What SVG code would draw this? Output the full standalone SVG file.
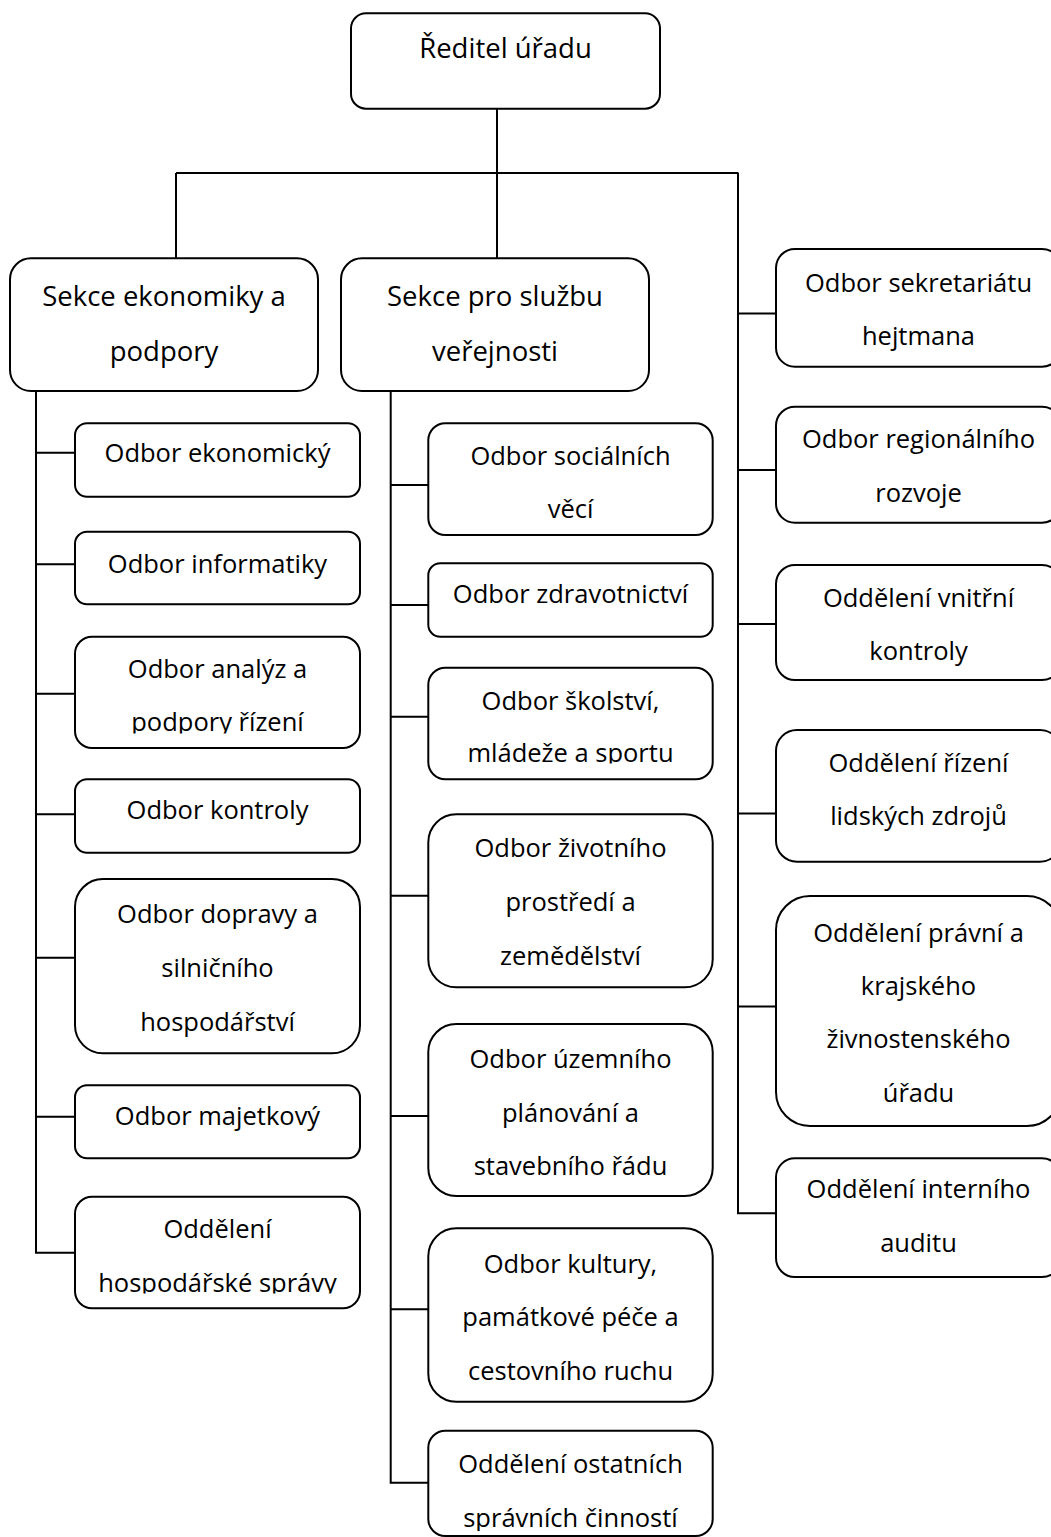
<svg xmlns="http://www.w3.org/2000/svg" width="1051" height="1537" viewBox="0 0 1051 1537">
<style>
.box{fill:#fff;stroke:#000;stroke-width:2}
.conn{fill:none;stroke:#000;stroke-width:2}
text{font-family:"Open Sans","Noto Sans","Liberation Sans",sans-serif;fill:#000;text-anchor:middle}
.t{font-size:25.5px}
.h{font-size:27.5px}
</style>
<defs>
<clipPath id="c1" clipPathUnits="userSpaceOnUse"><rect x="75" y="636" width="285" height="97.5"/></clipPath>
<clipPath id="c2" clipPathUnits="userSpaceOnUse"><rect x="75" y="1196" width="285" height="97.5"/></clipPath>
<clipPath id="c3" clipPathUnits="userSpaceOnUse"><rect x="428" y="667" width="285" height="96.5"/></clipPath>
<clipPath id="c4" clipPathUnits="userSpaceOnUse"><rect x="428" y="1430" width="285" height="101"/></clipPath>
</defs>
<rect width="1051" height="1537" fill="#fff"/>
<g id="connectors">
<path class="conn" d="M497,108.7V173M176,173H738.5M176,173V258.3M497,173V258.3M738,173V1213.3H776"/>
<path class="conn" d="M738,313.5H776M738,470H776M738,624H776M738,813.5H776M738,1006.5H776"/>
<path class="conn" d="M36,391V1252.7H75M36,452.7H75M36,564.3H75M36,693.7H75M36,814.3H75M36,957.7H75M36,1116.7H75"/>
<path class="conn" d="M390.7,391V1482.7H428.3M390.7,485H428.3M390.7,605H428.3M390.7,716.7H428.3M390.7,895.7H428.3M390.7,1116H428.3M390.7,1309.3H428.3"/>
</g>
<g id="n-reditel"><rect class="box" x="351" y="13.3" width="309" height="95.4" rx="15"/><text class="h" x="505.5" y="58">Ředitel úřadu</text></g>
<g id="n-sekce-ekonomiky"><rect class="box" x="10" y="258.3" width="308" height="132.7" rx="21"/><text class="h" x="164" y="306">Sekce ekonomiky a</text><text class="h" x="164" y="361">podpory</text></g>
<g id="n-sekce-sluzby"><rect class="box" x="341" y="258.3" width="308" height="132.7" rx="21"/><text class="h" x="495" y="306">Sekce pro službu</text><text class="h" x="495" y="361">veřejnosti</text></g>

<g id="n-ekonomicky"><rect class="box" x="75" y="423.3" width="285" height="73.4" rx="12"/><text class="t" x="217.5" y="462.3">Odbor ekonomický</text></g>
<g id="n-informatiky"><rect class="box" x="75" y="531.7" width="285" height="72.6" rx="12"/><text class="t" x="217.5" y="572.5">Odbor informatiky</text></g>
<g id="n-analyz"><rect class="box" x="75" y="636.7" width="285" height="111.3" rx="17"/><g clip-path="url(#c1)"><text class="t" x="217.5" y="677.7">Odbor analýz a</text><text class="t" x="217.5" y="731">podpory řízení</text></g></g>
<g id="n-kontroly"><rect class="box" x="75" y="779.3" width="285" height="73.4" rx="12"/><text class="t" x="217.5" y="819.3">Odbor kontroly</text></g>
<g id="n-dopravy"><rect class="box" x="75" y="879" width="285" height="174.3" rx="28"/><text class="t" x="217.5" y="923.3">Odbor dopravy a</text><text class="t" x="217.5" y="977">silničního</text><text class="t" x="217.5" y="1030.5">hospodářství</text></g>
<g id="n-majetkovy"><rect class="box" x="75" y="1085.3" width="285" height="73" rx="12"/><text class="t" x="217.5" y="1125">Odbor majetkový</text></g>
<g id="n-hosp-spravy"><rect class="box" x="75" y="1196.7" width="285" height="111.6" rx="17"/><g clip-path="url(#c2)"><text class="t" x="217.5" y="1238.3">Oddělení</text><text class="t" x="217.5" y="1291.7">hospodářské správy</text></g></g>

<g id="n-socialnich"><rect class="box" x="428.3" y="423.3" width="284.4" height="111.7" rx="17"/><text class="t" x="570.5" y="465">Odbor sociálních</text><text class="t" x="570.5" y="518.3">věcí</text></g>
<g id="n-zdravotnictvi"><rect class="box" x="428.3" y="563.3" width="284.4" height="73.4" rx="12"/><text class="t" x="570.5" y="603.3">Odbor zdravotnictví</text></g>
<g id="n-skolstvi"><rect class="box" x="428.3" y="667.7" width="284.4" height="111.6" rx="17"/><g clip-path="url(#c3)"><text class="t" x="570.5" y="710">Odbor školství,</text><text class="t" x="570.5" y="761.7">mládeže a sportu</text></g></g>
<g id="n-zivotniho"><rect class="box" x="428.3" y="814.3" width="284.4" height="173" rx="28"/><text class="t" x="570.5" y="856.7">Odbor životního</text><text class="t" x="570.5" y="910.5">prostředí a</text><text class="t" x="570.5" y="965">zemědělství</text></g>
<g id="n-uzemniho"><rect class="box" x="428.3" y="1024" width="284.4" height="172" rx="28"/><text class="t" x="570.5" y="1068.3">Odbor územního</text><text class="t" x="570.5" y="1121.7">plánování a</text><text class="t" x="570.5" y="1175">stavebního řádu</text></g>
<g id="n-kultury"><rect class="box" x="428.3" y="1228.3" width="284.4" height="173.4" rx="28"/><text class="t" x="570.5" y="1272.7">Odbor kultury,</text><text class="t" x="570.5" y="1326">památkové péče a</text><text class="t" x="570.5" y="1380">cestovního ruchu</text></g>
<g id="n-ostatnich"><rect class="box" x="428.3" y="1430.7" width="284.4" height="105.3" rx="17"/><g clip-path="url(#c4)"><text class="t" x="570.5" y="1473.3">Oddělení ostatních</text><text class="t" x="570.5" y="1526.7">správních činností</text></g></g>

<g id="n-sekretariatu"><rect class="box" x="776" y="249" width="285" height="117.7" rx="19"/><text class="t" x="918.5" y="291.7">Odbor sekretariátu</text><text class="t" x="918.5" y="345">hejtmana</text></g>
<g id="n-regionalniho"><rect class="box" x="776" y="406.7" width="285" height="116" rx="19"/><text class="t" x="918.5" y="448.3">Odbor regionálního</text><text class="t" x="918.5" y="501.7">rozvoje</text></g>
<g id="n-vnitrni"><rect class="box" x="776" y="565" width="285" height="115" rx="19"/><text class="t" x="918.5" y="606.7">Oddělení vnitřní</text><text class="t" x="918.5" y="660">kontroly</text></g>
<g id="n-lidskych"><rect class="box" x="776" y="730" width="285" height="131.7" rx="21"/><text class="t" x="918.5" y="771.7">Oddělení řízení</text><text class="t" x="918.5" y="825">lidských zdrojů</text></g>
<g id="n-pravni"><rect class="box" x="776" y="896" width="285" height="230" rx="34"/><text class="t" x="918.5" y="941.7">Oddělení právní a</text><text class="t" x="918.5" y="995">krajského</text><text class="t" x="918.5" y="1048">živnostenského</text><text class="t" x="918.5" y="1101.7">úřadu</text></g>
<g id="n-interniho"><rect class="box" x="776" y="1158.3" width="285" height="118.7" rx="19"/><text class="t" x="918.5" y="1198.3">Oddělení interního</text><text class="t" x="918.5" y="1251.7">auditu</text></g>
</svg>
